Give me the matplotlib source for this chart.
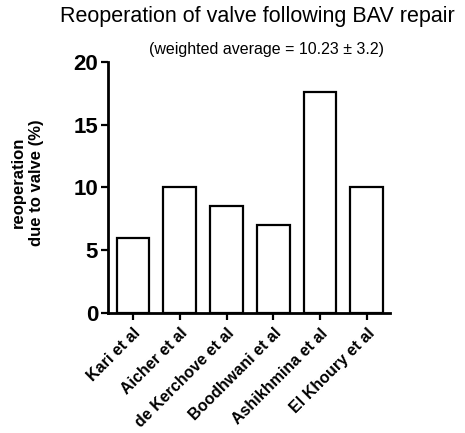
import matplotlib.pyplot as plt

plt.rcParams['font.family'] = ['Liberation Sans', 'DejaVu Sans']

studies = ['Kari et al', 'Aicher et al', 'de Kerchove et al', 'Boodhwani et al',
           'Ashikhmina et al', 'El Khoury et al']
reop = [6, 10, 8.5, 7, 17.6, 10]
yticks = [0, 5, 10, 15, 20]

fig = plt.figure(figsize=(4.65, 4.33), dpi=100)
ax = fig.add_axes([0.232, 0.277, 0.607, 0.580])

x = range(len(studies))
ax.bar(x, reop, width=0.7, color='white', edgecolor='black', linewidth=1.6, zorder=3)

ax.set_xlim(-0.54, 5.5)
ax.set_ylim(0, 20)
ax.set_yticks(yticks)
ax.set_xticks(list(x))
ax.set_xticklabels(studies, rotation=45, ha='right', rotation_mode='anchor',
                   fontsize=11.5, fontweight='bold')
for lab in ax.get_yticklabels():
    lab.set_fontsize(16)
    lab.set_fontweight('bold')

for s in ['top', 'right']:
    ax.spines[s].set_visible(False)
for s in ['left', 'bottom']:
    ax.spines[s].set_linewidth(2)
ax.tick_params(axis='both', direction='out', length=5, width=1.6, pad=2)
ax.tick_params(axis='x', pad=4)

ax.set_ylabel('reoperation\ndue to valve (%)', fontsize=12, fontweight='bold',
              linespacing=1.3)
ax.yaxis.set_label_coords(-0.225, 0.52)

fig.text(0.554, 0.962, 'Reoperation of valve following BAV repair', ha='center', va='center',
         fontsize=15.5)
fig.text(0.574, 0.885, '(weighted average = 10.23 \u00b1 3.2)', ha='center', va='center',
         fontsize=11.5)

fig.savefig('out.png', dpi=100)
